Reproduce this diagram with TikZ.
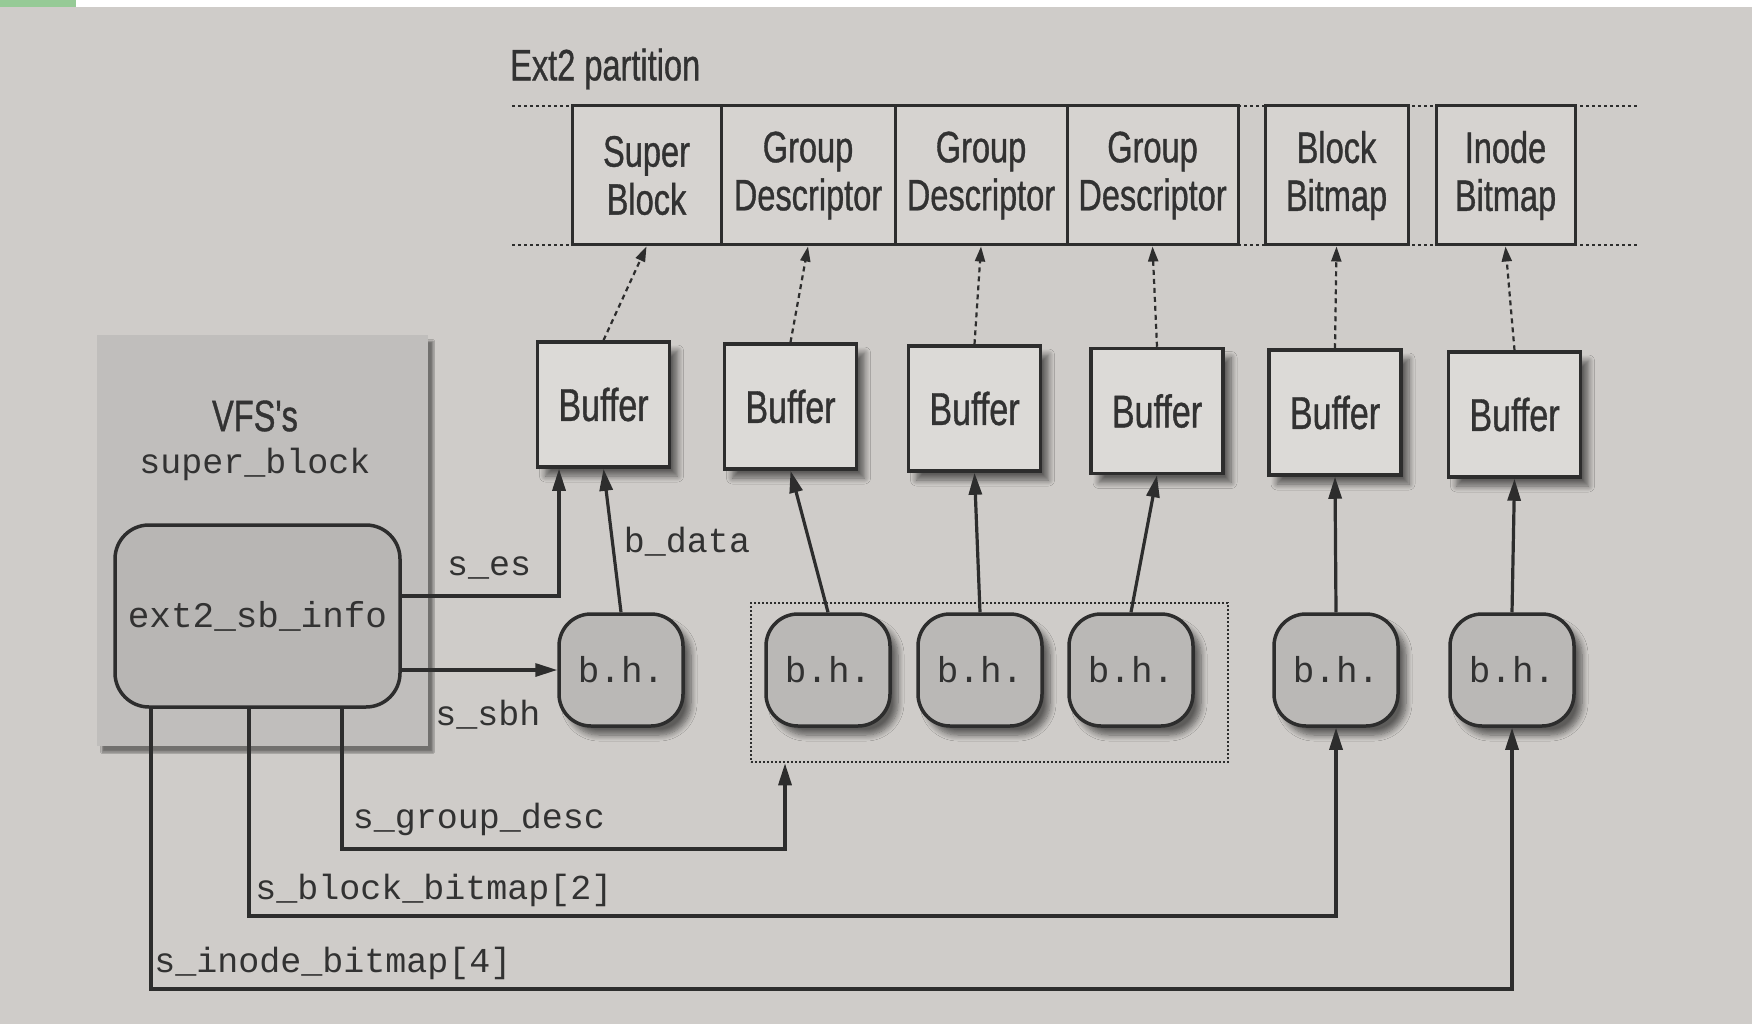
\documentclass[tikz,border=0pt]{standalone}
\usepackage{fontspec}
\newfontfamily\cond[FakeStretch=0.74,FakeBold=0.8]{Liberation Sans}
\setmonofont{Liberation Mono}
\usetikzlibrary{arrows.meta,shadows.blur,calc}
\definecolor{bg}{RGB}{207,204,201}
\definecolor{ink}{RGB}{50,50,50}
\definecolor{edge}{RGB}{45,45,45}
\definecolor{partfill}{RGB}{214,211,208}
\definecolor{buffill}{RGB}{220,218,215}
\definecolor{bhfill}{RGB}{186,184,182}
\definecolor{vfsfill}{RGB}{192,190,188}
\definecolor{extfill}{RGB}{184,182,180}
\definecolor{greenbar}{RGB}{150,202,150}
\begin{document}
\begin{tikzpicture}[x=1pt,y=-1pt,
  part/.style={draw=edge, line width=3pt, fill=partfill, minimum height=137pt, align=center,
    inner sep=0pt, font=\cond\fontsize{44}{48}\selectfont, text=ink},
  buf/.style={draw=edge, line width=3.5pt, fill=buffill, minimum width=132pt, minimum height=125pt,
    inner sep=0pt, font=\cond\fontsize{46}{50}\selectfont, text=ink,
    blur shadow={shadow xshift=8pt, shadow yshift=-9pt, shadow opacity=55, shadow blur steps=8, shadow blur radius=6pt}},
  bh/.style={draw=edge, line width=3.5pt, fill=bhfill, rounded corners=32pt, minimum width=124pt,
    minimum height=112pt, inner sep=0pt, font=\ttfamily\fontsize{36}{40}\selectfont, text=ink,
    blur shadow={shadow xshift=8pt, shadow yshift=-9pt, shadow opacity=55, shadow blur steps=8, shadow blur radius=6pt}},
  conn/.style={draw=edge, line width=3.2pt, -{Triangle[length=22pt,width=13pt]}},
  dotarrow/.style={draw=edge, line width=2.2pt, dash pattern=on 5pt off 4pt, -{Triangle[length=15pt,width=10pt]}},
  lbl/.style={font=\ttfamily\fontsize{35}{40}\selectfont, text=ink, inner sep=0pt},
  sanslbl/.style={font=\cond\fontsize{44}{48}\selectfont, text=ink, inner sep=0pt}
]
\useasboundingbox (0,0) rectangle (1752,1024);
\fill[bg] (0,0) rectangle (1752,1024);
\fill[white] (0,0) rectangle (1752,7);
\fill[greenbar] (0,0) rectangle (76,7);

% Ext2 partition strip
\node[sanslbl, anchor=west] (ptitle) at (510,69) {Ext2 partition};
\draw[draw=edge, line width=2.5pt, dash pattern=on 3pt off 3pt] (512,106) -- (1637,106);
\draw[draw=edge, line width=2.5pt, dash pattern=on 3pt off 3pt] (512,245) -- (1637,245);
\node[part, minimum width=149pt, minimum height=139pt] (sb)  at (646.5,175.5) {Super\\Block};
\node[part, minimum width=174pt, minimum height=139pt] (gd1) at (808,175.5) {Group\\Descriptor};
\node[part, minimum width=172pt, minimum height=139pt] (gd2) at (981,175.5) {Group\\Descriptor};
\node[part, minimum width=171pt, minimum height=139pt] (gd3) at (1152.5,175.5) {Group\\Descriptor};
\node[part, minimum width=143pt, minimum height=139pt] (bb)  at (1336.5,175.5) {Block\\Bitmap};
\node[part, minimum width=139pt, minimum height=139pt] (ib)  at (1505.5,175.5) {Inode\\Bitmap};

% Buffers
\node[buf] (buf1) at (603.5,404.5) {Buffer};
\node[buf] (buf2) at (790.5,406.5) {Buffer};
\node[buf] (buf3) at (974.5,408.5) {Buffer};
\node[buf] (buf4) at (1157,411) {Buffer};
\node[buf] (buf5) at (1335,412.5) {Buffer};
\node[buf] (buf6) at (1514.5,414.5) {Buffer};

% dotted arrows buffer -> partition
\draw[dotarrow] (buf1.north) -- (sb.south);
\draw[dotarrow] (buf2.north) -- (gd1.south);
\draw[dotarrow] (buf3.north) -- (gd2.south);
\draw[dotarrow] (buf4.north) -- (gd3.south);
\draw[dotarrow] (buf5.north) -- (bb.south);
\draw[dotarrow] (buf6.north) -- (ib.south);

% group box (dotted)
\node[draw=edge, line width=2.5pt, dash pattern=on 2pt off 2pt, minimum width=477pt,
  minimum height=159pt, inner sep=0pt] (grp) at (989.5,682.5) {};

% buffer heads
\node[bh] (bh1) at (621,670) {b.h.};
\node[bh] (bh2) at (828,670) {b.h.};
\node[bh] (bh3) at (980,670) {b.h.};
\node[bh] (bh4) at (1131,670) {b.h.};
\node[bh] (bh5) at (1336,670) {b.h.};
\node[bh] (bh6) at (1512,670) {b.h.};

\draw[conn] (bh1.north) -- (buf1.south);
\draw[conn] (bh2.north) -- (buf2.south);
\draw[conn] (bh3.north) -- (buf3.south);
\draw[conn] (bh4.north) -- (buf4.south);
\draw[conn] (bh5.north) -- (buf5.south);
\draw[conn] (bh6.north) -- (buf6.south);
\node[lbl] (bdata) at (687,542) {b\_data};

% VFS super_block
\node[draw=none, fill=vfsfill, minimum width=331pt, minimum height=411pt, inner sep=0pt,
  blur shadow={shadow xshift=5pt, shadow yshift=-6pt, shadow opacity=45, shadow blur steps=4}]
  (vfs) at (262.5,540.5) {};
\node[sanslbl] (vfst) at (255,416) {VFS's};
\node[lbl] (vfsm) at (255,464) {super\_block};
\node[draw=edge, line width=3.5pt, fill=extfill, rounded corners=34pt, minimum width=285pt,
  minimum height=182pt, inner sep=0pt, font=\ttfamily\fontsize{36}{40}\selectfont, text=ink]
  (ext2) at (257.5,616) {ext2\_sb\_info};

% s_es and s_sbh
\coordinate (es) at (559,596);
\draw[conn] (ext2.east |- es) -- (es) -- (es |- buf1.south);
\node[lbl] (eslbl) at (489,568) {s\_es};
\draw[conn] (ext2.east |- bh1.west) -- (bh1.west);
\node[lbl] (sbhlbl) at (488,715) {s\_sbh};

% s_group_desc
\coordinate (gda) at (342,849);
\coordinate (gdb) at (785,849);
\draw[conn] (ext2.south -| gda) -- (gda) -- (gdb) -- (gdb |- grp.south);
\node[lbl] (gdlbl) at (479,819) {s\_group\_desc};

% s_block_bitmap
\coordinate (bba) at (249,916);
\draw[conn] (ext2.south -| bba) -- (bba) -- (bba -| bh5.south) -- (bh5.south);
\node[lbl] (bblbl) at (434,890) {s\_block\_bitmap[2]};

% s_inode_bitmap
\coordinate (iba) at (151,989);
\draw[conn] (ext2.south -| iba) -- (iba) -- (iba -| bh6.south) -- (bh6.south);
\node[lbl] (iblbl) at (333,963) {s\_inode\_bitmap[4]};
\end{tikzpicture}
\end{document}
